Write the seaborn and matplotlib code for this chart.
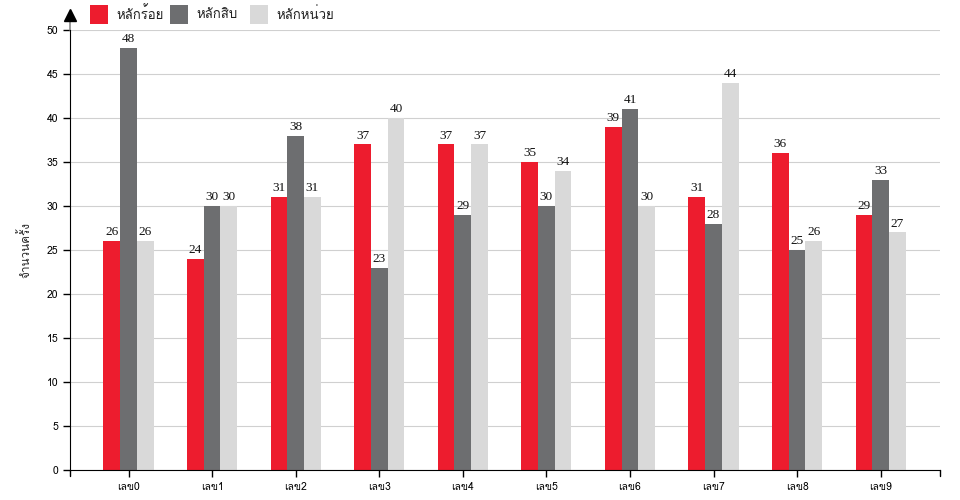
import pandas as pd
import matplotlib
matplotlib.use('Agg')
import matplotlib.pyplot as plt
import seaborn as sns
from matplotlib import font_manager
from matplotlib.ft2font import FT2Font
from matplotlib.patches import Rectangle

# data
categories = ['เลข0', 'เลข1', 'เลข2', 'เลข3', 'เลข4', 'เลข5', 'เลข6', 'เลข7', 'เลข8', 'เลข9']
series_names = ['หลักร้อย', 'หลักสิบ', 'หลักหน่วย']
hundreds = [26, 24, 31, 37, 37, 35, 39, 31, 36, 29]
tens = [48, 30, 38, 23, 29, 30, 41, 28, 25, 33]
units = [26, 30, 31, 40, 37, 34, 30, 44, 26, 27]
colors = ['#ED1C2E', '#6D6E70', '#D9D9D9']
y_label = 'จำนวนครั้ง'


# Function to find an installed font that has Thai glyphs
def find_thai_font():
    for f in font_manager.fontManager.ttflist:
        try:
            if 0x0E2B in FT2Font(f.fname).get_charmap():
                return f.name
        except Exception:
            pass
    return None


sns.set_style('white')
thai = find_thai_font()
families = ([thai] if thai else []) + ['DejaVu Sans']
plt.rcParams['font.family'] = families

df = pd.DataFrame({
    'category': categories * 3,
    'series': [s for s in series_names for _ in categories],
    'value': hundreds + tens + units,
})

fig = plt.figure(figsize=(9.6, 5), dpi=100)
ax = fig.add_axes([70 / 960, 30 / 500, 870 / 960, 440 / 500])

sns.barplot(data=df, x='category', y='value', hue='series', hue_order=series_names,
            palette=colors, width=0.6, gap=0, saturation=1, legend=False, ax=ax,
            edgecolor='none', linewidth=0, zorder=2)

for container in ax.containers:
    ax.bar_label(container, padding=2, fontsize=9.5, family='Liberation Serif', color='#111111')

ax.set_xlim(-0.70, 9.71)
ax.set_ylim(0, 50)
ax.set_yticks(range(0, 51, 5))
ax.yaxis.grid(True, color='#D0D0D0', linewidth=0.8, zorder=0)
ax.set_axisbelow(True)
ax.set_xlabel('')
ax.set_ylabel(y_label, fontsize=8.5, labelpad=11)
ax.tick_params(axis='both', labelsize=7.5, colors='black', length=5, width=1, direction='out',
               bottom=True, left=True)
for s in ['top', 'right']:
    ax.spines[s].set_visible(False)
ax.spines['left'].set_color('black')
ax.spines['bottom'].set_color('black')

# arrow on top of the y axis and small end ticks on the x axis
ax.plot([0, 0], [1.0, 1.025], transform=ax.transAxes, color='#888888', lw=1.2, clip_on=False)
ax.plot([0], [1.035], marker='^', markersize=8, color='black', transform=ax.transAxes, clip_on=False)
ax.plot([1, 1], [0, -0.014], transform=ax.transAxes, color='black', lw=1, clip_on=False)
ax.plot([0, 0], [0, -0.014], transform=ax.transAxes, color='black', lw=1, clip_on=False)

# legend: squares with labels along the top
for i, (name, c) in enumerate(zip(series_names, colors)):
    x0 = (90 + 80 * i) / 960
    fig.patches.append(Rectangle((x0, 1 - 24 / 500), 18 / 960, 19 / 500, facecolor=c,
                                 edgecolor='none', transform=fig.transFigure, figure=fig))
    fig.text(x0 + 26 / 960, 1 - 14.5 / 500, name, fontsize=9.5, va='center', ha='left', color='#222222')

fig.savefig('out.png', dpi=100)
